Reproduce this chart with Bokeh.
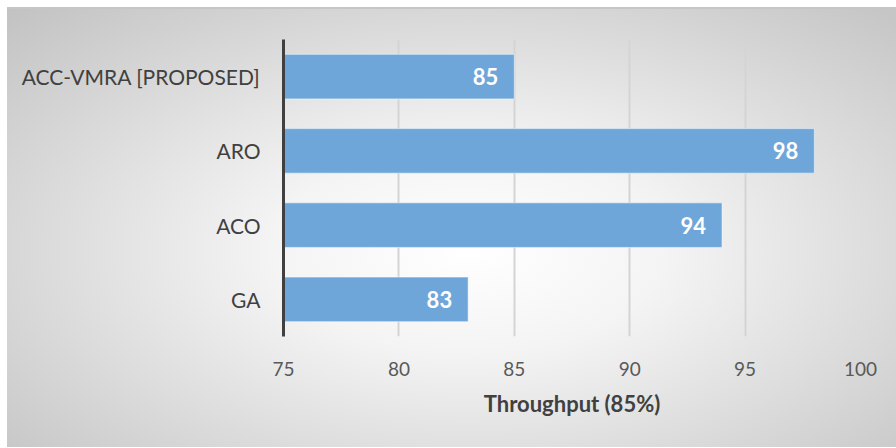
from bokeh.plotting import figure
from bokeh.models import ColumnDataSource, FactorRange, Range1d, FixedTicker
from bokeh.core.properties import value
from bokeh.embed import file_html
from bokeh.resources import INLINE

methods = ["ACC-VMRA [PROPOSED]", "ARO", "ACO", "GA"]
throughput = [85, 98, 94, 83]
x_ticks = [75, 80, 85, 90, 95, 100]
x_title = "Throughput (85%)"

factors = list(reversed(methods))
src = ColumnDataSource(dict(m=methods, v=throughput, lab=[str(v) for v in throughput]))

FONT = "Lato"

p = figure(width=889, height=440, y_range=FactorRange(*factors), x_range=Range1d(75, 100),
           output_backend="svg", toolbar_location=None,
           min_border_left=276, min_border_right=36, min_border_top=30, min_border_bottom=113)
p.styles = {"margin-left": "7px", "margin-top": "7px",
            "border-top": "2px solid #c6c6c6",
            "background": "radial-gradient(ellipse at 52% 55%, #ffffff 0%, #f4f4f4 30%, #c2c2c2 100%)"}
p.background_fill_alpha = 0
p.border_fill_alpha = 0
p.outline_line_color = None

p.hbar(y="m", right="v", left=75, height=0.6, source=src,
       fill_color="#6fa6d9", line_color="#ffffff", line_alpha=0.5, line_width=1)
p.text(x="v", y="m", text="lab", source=src, text_align="right", text_baseline="middle",
       x_offset=-16, text_color="#ffffff", text_font=value(FONT), text_font_style="bold",
       text_font_size="22px")

p.xaxis.ticker = FixedTicker(ticks=x_ticks)
p.xaxis.axis_line_color = None
p.xaxis.major_tick_line_color = None
p.xaxis.minor_tick_line_color = None
p.xaxis.major_label_text_font = FONT
p.xaxis.major_label_text_font_size = "19px"
p.xaxis.major_label_text_color = "#595959"
p.xaxis.major_label_standoff = 19
p.xaxis.axis_label = x_title
p.xaxis.axis_label_text_font = FONT
p.xaxis.axis_label_text_font_size = "22px"
p.xaxis.axis_label_text_font_style = "bold"
p.xaxis.axis_label_text_color = "#404040"
p.xaxis.axis_label_standoff = 11

p.yaxis.axis_line_color = "#404040"
p.yaxis.axis_line_width = 3
p.yaxis.major_tick_line_color = None
p.yaxis.minor_tick_line_color = None
p.yaxis.major_label_text_font = FONT
p.yaxis.major_label_text_font_size = "21px"
p.yaxis.major_label_text_color = "#404040"
p.yaxis.major_label_standoff = 17

p.ygrid.grid_line_color = None
p.xgrid.grid_line_color = "#d4d4d4"
p.xgrid.grid_line_width = 2

open("out.html", "w").write(file_html(p, INLINE))
